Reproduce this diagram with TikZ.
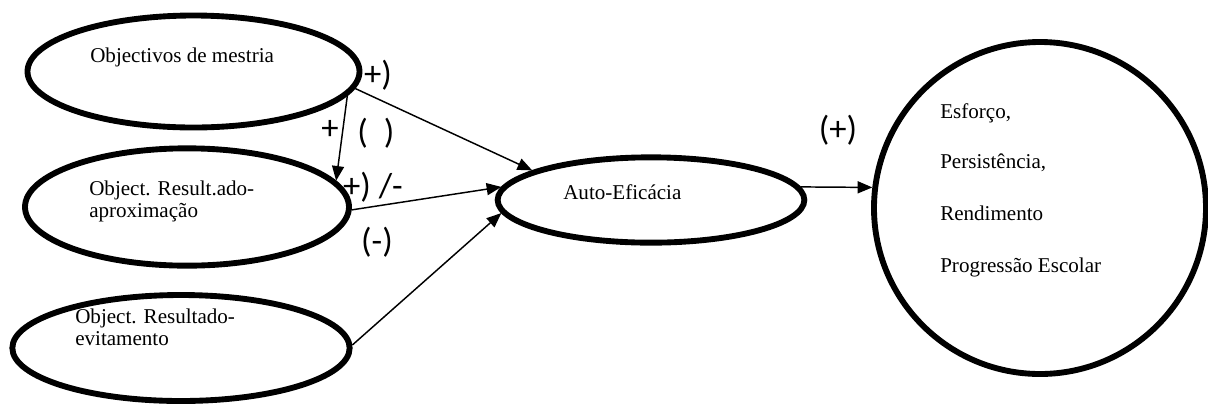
\documentclass[tikz,border=0pt]{standalone}
\usepackage{fontspec}
\setmainfont{Liberation Serif}
\newfontfamily\signfont{Carlito}
\usetikzlibrary{shapes.geometric,arrows.meta}
\begin{document}
\begin{tikzpicture}[x=0.75pt,y=-0.75pt,
  oval/.style={draw,ellipse,line width=4.4pt,inner sep=0pt},
  txt/.style={anchor=west,inner sep=0pt,align=left,font=\fontsize{15.8}{16.8}\selectfont},
  sign/.style={inner sep=0pt,font=\signfont\fontsize{26}{28}\selectfont},
  link/.style={line width=1.1pt,-{Triangle[length=11pt,width=9pt]}}]
\useasboundingbox (0,0) rectangle (1208,405);

% goal orientations
\node[oval,minimum width=249pt,minimum height=84pt] (mest) at (193.5,71.5) {};
\node[oval,minimum width=243pt,minimum height=88pt] (apx) at (187,207) {};
\node[oval,minimum width=253pt,minimum height=79.5pt] (evit) at (181,348) {};
% self-efficacy and outcomes
\node[oval,minimum width=230pt,minimum height=64pt] (auto) at (651,200) {};
\node[draw,circle,line width=4.4pt,inner sep=0pt,minimum size=249pt] (res) at (1040,208) {};

\node[txt] (tmest) at (90,57) {Objectivos de mestria};
\node[txt] (tapx) at (89,201.5) {Object. Result.ado-\\aproxima\c{c}\~ao};
\node[txt] (tevit) at (75,327.5) {Object. Resultado-\\evitamento};
\node[txt] (tauto) at (563,192) {Auto-Efic\'acia};
\node[txt] (r1) at (940,113) {Esfor\c{c}o,};
\node[txt] (r2) at (940,163) {Persist\^encia,};
\node[txt] (r3) at (940,213) {Rendimento};
\node[txt] (r4) at (940,267) {Progress\~ao Escolar};

% paths
\draw[link] (mest.-6) -- (auto.166);
\draw[link] (mest.-9) -- (apx.10);
\draw[link] (apx.-1) -- (auto.175);
\draw[link] (evit.1) -- (auto.185);
\draw[link] (auto.5) -- (res.173);

% signs
\node[sign] (s1) at (378,75) {+)};
\node[sign] (s2) at (330,130) {+};
\node[sign] (s3) at (376,133) {(\hspace{12pt})};
\node[sign] (s4) at (373,187) {+)\ /-};
\node[sign] (s5) at (377,242) {(-)};
\node[sign] (s6) at (838,130) {(+)};
\end{tikzpicture}
\end{document}
